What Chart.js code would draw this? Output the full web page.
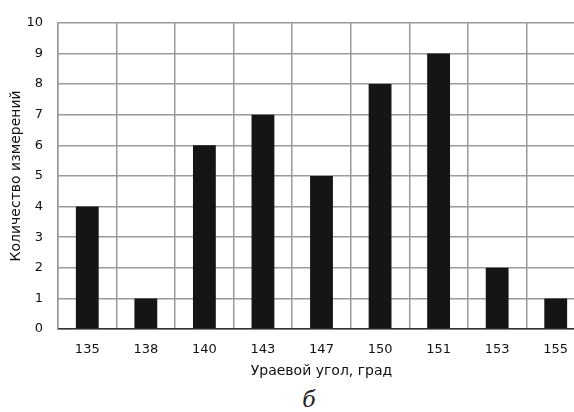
<!DOCTYPE html>
<html>
<head>
<meta charset="utf-8">
<script src="https://cdn.jsdelivr.net/npm/chart.js@4"></script>
<style>
    html, body { margin: 0; padding: 0; background: #fff; overflow: hidden; }
    #wrap { position: relative; width: 585px; height: 382px; }
    #caption {
        position: absolute; left: 292px; width: 34px; top: 387px;
        text-align: center; font: italic 22px "DejaVu Serif", "Liberation Serif", serif; color: #222;
    }
</style>
</head>
<body>
<div id="wrap"><canvas id="angleChart"></canvas></div>
<div id="caption">б</div>
<script>
    const angles = ["135", "138", "140", "143", "147", "150", "151", "153", "155"];
    const counts = [4, 1, 6, 7, 5, 8, 9, 2, 1];
    const yTicks = [0, 1, 2, 3, 4, 5, 6, 7, 8, 9, 10];

    const fontFamily = "'DejaVu Sans', sans-serif";

    new Chart(document.getElementById("angleChart"), {
        type: "bar",
        data: {
            labels: angles,
            datasets: [{
                data: counts,
                backgroundColor: "#151515",
                barPercentage: 0.39,
                categoryPercentage: 1
            }]
        },
        options: {
            responsive: true,
            maintainAspectRatio: false,
            animation: false,
            layout: { padding: { top: 12, left: 0, right: 0, bottom: 0 } },
            plugins: { legend: { display: false }, tooltip: { enabled: false } },
            scales: {
                x: {
                    afterFit: axis => { axis.height = 53; },
                    grid: { color: "#9a9a9a", lineWidth: 1.5, offset: true, drawTicks: false },
                    border: { color: "#333", width: 1.5 },
                    ticks: { color: "#111", font: { family: fontFamily, size: 13 }, padding: 13 },
                    title: {
                        display: true, text: "Ураевой угол, град", color: "#111",
                        font: { family: fontFamily, size: 14 }, padding: { top: 0, bottom: 2 }
                    }
                },
                y: {
                    min: 0, max: 10,
                    afterFit: axis => { axis.width = 58; },
                    afterBuildTicks: axis => { axis.ticks = yTicks.map(v => ({ value: v })); },
                    grid: { color: "#9a9a9a", lineWidth: 1.5, drawTicks: false },
                    border: { color: "#9a9a9a", width: 1.5 },
                    ticks: { color: "#111", font: { family: fontFamily, size: 13 }, padding: 15 },
                    title: {
                        display: true, text: "Количество измерений", color: "#111",
                        font: { family: fontFamily, size: 14 }, padding: { top: 8, bottom: 0 }
                    }
                }
            }
        }
    });
</script>
</body>
</html>
